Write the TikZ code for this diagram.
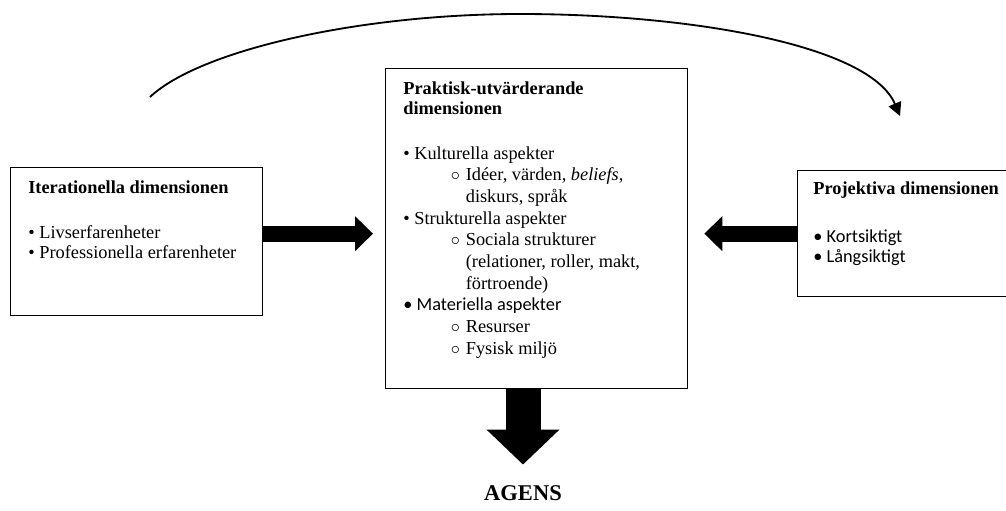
\documentclass[tikz,border=0pt]{standalone}
\usepackage{fontspec}
\setmainfont{Liberation Serif}
\newfontfamily\calfont{Carlito}
\usetikzlibrary{arrows.meta,positioning}

\newcommand{\subpoint}{\hspace*{28.5pt}\makebox[9pt][l]{$\circ$}}
\newcommand{\subcont}{\hspace*{37.5pt}}

\begin{document}
\begin{tikzpicture}[
    font=\rmfamily\fontsize{11}{12.3}\selectfont,
    >=Stealth,
    x=0.6pt, y=-0.6pt,
    frame/.style={draw=black, line width=0.8pt, inner sep=0pt, anchor=north west},
    body/.style={anchor=north west, inner sep=0pt, align=left},
    sidearrow/.style={-{Triangle[length=10.8pt, width=20.4pt]}, line width=9.8pt},
    downarrow/.style={-{Triangle[length=21pt, width=42.6pt]}, line width=21pt},
    feedback/.style={-{Triangle[length=8pt, width=8pt]}, line width=1.1pt}
]
    \useasboundingbox (0,0) rectangle (1006,510);

    % boxes
    \node[frame, minimum width=151.2pt, minimum height=88.8pt] (iter) at (10,167) {};
    \node[frame, minimum width=181.2pt, minimum height=192pt] (prak) at (385,68) {};
    \node[frame, minimum width=132pt, minimum height=75.6pt] (proj) at (797,170) {};

    % (a) Iterationella
    \node[body] (iterText) at (28,180) {\textbf{Iterationella dimensionen}\\[14.7pt]
        \textbullet\ Livserfarenheter\\
        \textbullet\ Professionella erfarenheter};

    % (b) Praktisk-utvarderande
    \node[body, font=\rmfamily\fontsize{11}{13}\selectfont] (prakText) at (403,81) {\textbf{Praktisk-utvärderande}\\[-1pt]
        \textbf{dimensionen}\\[14pt]
        \textbullet\ Kulturella aspekter\\
        \subpoint Idéer, värden, \textit{beliefs},\\
        \subcont diskurs, språk\\
        \textbullet\ Strukturella aspekter\\
        \subpoint Sociala strukturer\\
        \subcont (relationer, roller, makt,\\
        \subcont förtroende)\\
        {\calfont • Materiella aspekter}\\
        \subpoint Resurser\\
        \subpoint Fysisk miljö};

    % (c) Projektiva
    \node[body] (projText) at (813,181) {\textbf{Projektiva dimensionen}\\[16.5pt]
        {\calfont • Kortsiktigt}\\
        {\calfont • Långsiktigt}};

    % result
    \node[font=\bfseries\fontsize{13.5}{16}\selectfont] (agens) at (523,493) {AGENS};

    % block arrows
    \draw[sidearrow, shorten >=7.2pt] ([yshift=4.8pt]iter.east) -- ([yshift=4.8pt]iter.east -| prak.west);
    \draw[sidearrow, shorten >=9.6pt] (proj.west) -- (proj.west -| prak.east);
    \draw[downarrow, shorten >=9pt] (prak.south -| agens.north) -- (agens.north);

    % feedback loop
    \coordinate (loopstart) at (150,97);
    \coordinate (loopend) at (900,116);
    \draw[feedback] (loopstart) .. controls (200,50) and (360,14) .. (520,14)
        .. controls (690,14) and (870,45) .. (loopend);
\end{tikzpicture}
\end{document}
